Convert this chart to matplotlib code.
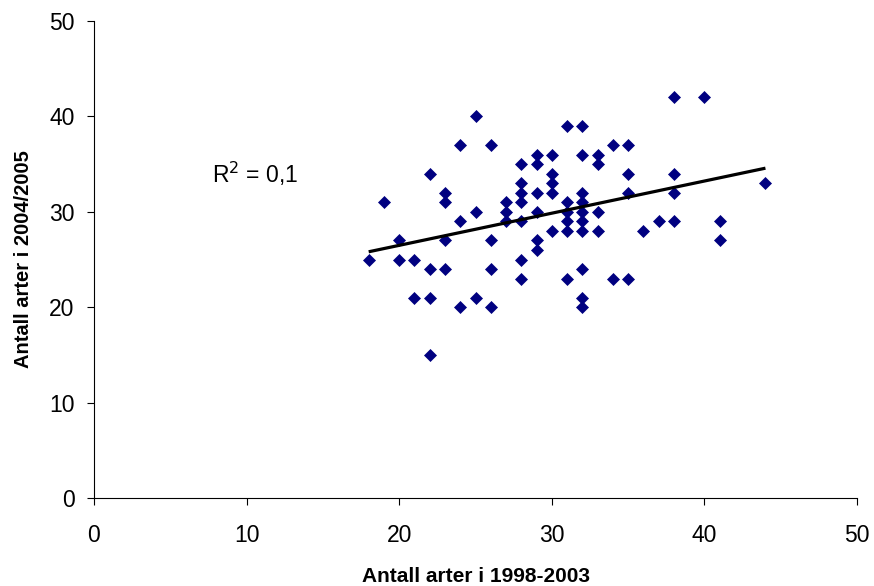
import numpy as np
import matplotlib
matplotlib.use("Agg")
import matplotlib.pyplot as plt

plt.rcParams['font.family'] = ['Liberation Sans', 'DejaVu Sans']

# Number of species per site: first period (x) and second period (y)
arter_1998_2003 = [18, 19, 20, 20, 21, 21, 22, 22, 22, 22,
                   23, 23, 23, 23, 24, 24, 24, 25, 25, 25,
                   26, 26, 26, 26, 27, 27, 27,
                   28, 28, 28, 28, 28, 28, 28,
                   29, 29, 29, 29, 29, 29,
                   30, 30, 30, 30, 30,
                   31, 31, 31, 31, 31, 31,
                   32, 32, 32, 32, 32, 32, 32, 32, 32, 32,
                   33, 33, 33, 33, 34, 34, 35, 35, 35, 35,
                   36, 37, 38, 38, 38, 38, 40, 41, 41, 44]
arter_2004_2005 = [25, 31, 27, 25, 25, 21, 34, 24, 21, 15,
                   32, 31, 27, 24, 37, 29, 20, 40, 30, 21,
                   37, 27, 24, 20, 31, 30, 29,
                   35, 33, 32, 31, 29, 25, 23,
                   36, 35, 32, 30, 27, 26,
                   36, 34, 33, 32, 28,
                   39, 31, 30, 29, 28, 23,
                   39, 36, 32, 31, 30, 29, 28, 24, 21, 20,
                   36, 35, 30, 28, 37, 23, 37, 34, 32, 23,
                   28, 29, 42, 34, 32, 29, 42, 29, 27, 33]

x_ticks = [0, 10, 20, 30, 40, 50]
y_ticks = [0, 10, 20, 30, 40, 50]

x = np.array(arter_1998_2003, dtype=float)
y = np.array(arter_2004_2005, dtype=float)

# Linear trend line and coefficient of determination
slope, intercept = np.polyfit(x, y, 1)
pred = slope * x + intercept
r2 = 1 - np.sum((y - pred) ** 2) / np.sum((y - y.mean()) ** 2)

fig = plt.figure(figsize=(8.74, 5.86), dpi=100)
ax = fig.add_axes([94 / 874, 1 - 498 / 586, (857 - 94) / 874, (498 - 21) / 586])

ax.plot(x, y, linestyle='none', marker='D', markersize=6.6,
        markerfacecolor='#000080', markeredgecolor='#000080',
        markeredgewidth=0.5, zorder=3)

xl = np.array([x.min(), x.max()])
ax.plot(xl, slope * xl + intercept, color='black', linewidth=2.3, zorder=4,
        solid_capstyle='butt')

ax.text(7.75, 33.0, f"R$^2$ = {r2:.1f}".replace('.', ','), fontsize=16.5,
        va='baseline', ha='left')

ax.set_xlim(0, 50)
ax.set_ylim(0, 50)
ax.set_xticks(x_ticks)
ax.set_yticks(y_ticks)
ax.tick_params(axis='both', direction='out', length=5, width=0.8,
               labelsize=16.5, color='black')
ax.tick_params(axis='x', pad=14)
ax.tick_params(axis='y', pad=9)

for side in ('top', 'right'):
    ax.spines[side].set_visible(False)
for side in ('left', 'bottom'):
    ax.spines[side].set_linewidth(0.8)

ax.set_xlabel('Antall arter i 1998-2003', fontsize=15, fontweight='bold',
              labelpad=14)
ax.set_ylabel('Antall arter i 2004/2005', fontsize=14.5, fontweight='bold',
              labelpad=11.5)

fig.savefig('out.png', dpi=100, facecolor='white')
